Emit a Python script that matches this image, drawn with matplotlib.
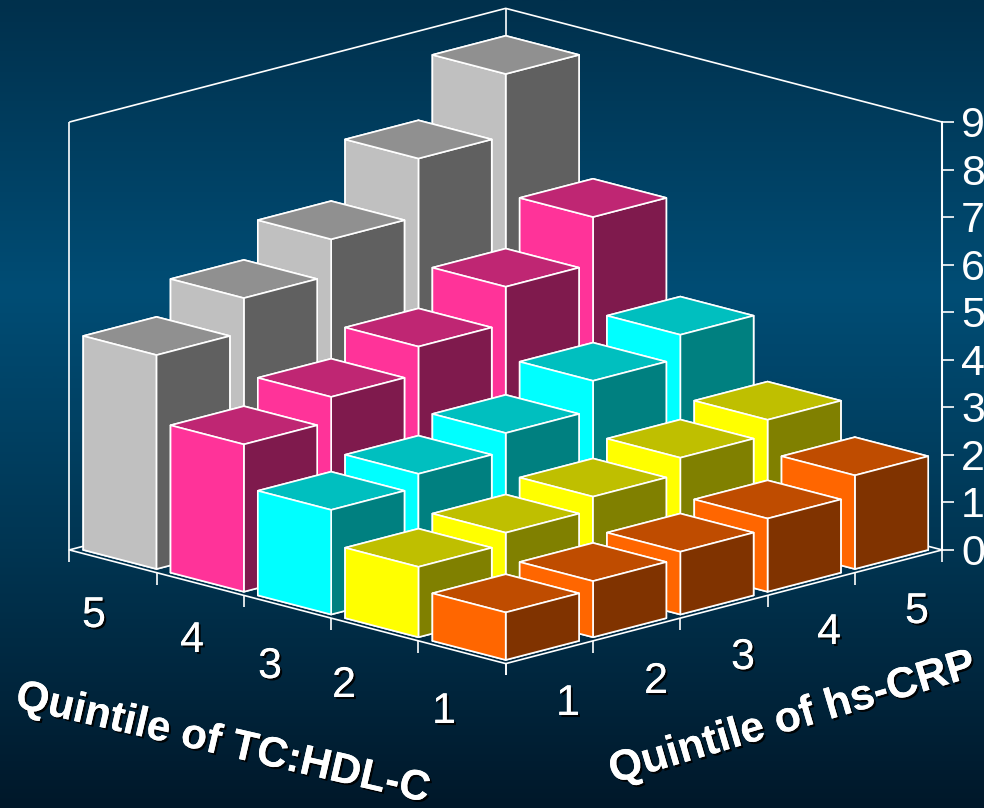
import matplotlib
matplotlib.use('Agg')
import matplotlib.pyplot as plt
import matplotlib.patheffects as pe
from matplotlib.colors import LinearSegmentedColormap
import numpy as np

plt.rcParams['font.family'] = ['Liberation Sans', 'DejaVu Sans']

W, H = 984, 808

crp_labels = ['1', '2', '3', '4', '5']
tc_labels = ['1', '2', '3', '4', '5']
z_ticks = [0, 1, 2, 3, 4, 5, 6, 7, 8, 9]

# event rate per hs-CRP quintile, one list per TC:HDL-C quintile
tc1_values = [1.00, 1.18, 1.32, 1.54, 1.97]
tc2_values = [1.48, 1.72, 2.00, 2.34, 2.66]
tc3_values = [2.20, 2.48, 2.86, 3.48, 3.97]
tc4_values = [3.10, 3.62, 4.20, 4.98, 5.97]
tc5_values = [4.50, 5.22, 5.98, 7.20, 8.50]
all_values = [tc1_values, tc2_values, tc3_values, tc4_values, tc5_values]

# side facing left, top, side facing right
orange = ['#FF6600', '#BF4C00', '#803300']
yellow = ['#FFFF00', '#BFBF00', '#808000']
cyan = ['#00FFFF', '#00BFBF', '#008080']
pink = ['#FF3399', '#BF2673', '#7F1A4D']
gray = ['#C0C0C0', '#909090', '#606060']
all_colors = [orange, yellow, cyan, pink, gray]

fig = plt.figure(figsize=(W / 100, H / 100), dpi=100)

# background gradient
bg = fig.add_axes([0, 0, 1, 1], zorder=0)
stops = [(0.0, '#00304C'), (0.36, '#004D75'), (0.68, '#003552'), (1.0, '#00182A')]
cmap = LinearSegmentedColormap.from_list('bg', stops)
bg.imshow(np.linspace(0, 1, 512).reshape(-1, 1), cmap=cmap, aspect='auto', vmin=0, vmax=1)
bg.set_axis_off()

# square 3d axes, bigger than the figure so nothing gets clipped
size = 1400
x0 = 505.7 - 0.5135 * size
y0 = (H - 336) - 0.5135 * size
ax = fig.add_axes([x0 / W, y0 / H, size / W, size / H], projection='3d', zorder=1)
ax.patch.set_alpha(0)
ax.set_proj_type('ortho')
ax.view_init(elev=15.1, azim=-135)
ax.set_box_aspect((1, 1, 0.718), zoom=0.6788)
ax.computed_zorder = False
ax.set_axis_off()

line = dict(color='white', lw=1.2, solid_capstyle='butt')

# floor and back walls
ax.plot([0, 5, 5, 0, 0], [0, 0, 5, 5, 0], [0, 0, 0, 0, 0], zorder=2, **line)
ax.plot([5, 5], [5, 5], [0, 9], zorder=2, **line)
ax.plot([0, 5, 5], [5, 5, 0], [9, 9, 9], zorder=2, **line)
ax.plot([0, 0], [5, 5], [0, 9], zorder=2, **line)
ax.plot([5, 5], [0, 0], [0, 9], zorder=2, color='white', lw=1.5)

# tick marks under the two front edges
for t in range(6):
    ax.plot([t, t], [0, 0], [-0.25, 0], zorder=2, **line)
    ax.plot([0, 0], [t, t], [-0.25, 0], zorder=2, **line)

# tick marks on the value axis
for v in z_ticks:
    ax.plot([5, 5.0687], [0, -0.0687], [v, v], zorder=2, **line)

# bars, back to front
bar_w = 0.84
gap = (1 - bar_w) / 2
order = sorted(((i, j) for i in range(5) for j in range(5)), key=lambda c: -(c[0] + c[1]))
for n, (i, j) in enumerate(order):
    left, top, right = all_colors[j]
    faces = [top, top, right, right, left, right]
    ax.bar3d(i + gap, j + gap, 0, bar_w, bar_w, all_values[j][i], color=faces,
             edgecolor='white', linewidth=1.2, shade=False, zorder=5 + n)

ax.set_xlim(0, 5)
ax.set_ylim(0, 5)
ax.set_zlim(0, 9)

shadow = [pe.withSimplePatchShadow(offset=(1.5, -1.5), shadow_rgbFace='black', alpha=0.9), pe.Normal()]


def label(x, y, s, **kw):
    fig.text(x / W, 1 - y / H, s, color='white', path_effects=shadow, zorder=5, **kw)


# value axis labels, 47.55 px per unit above the floor corner
for v in z_ticks:
    fig.text(961 / W, 1 - (550 - 47.55 * v + 15) / H, str(v), color='white',
             fontsize=31, ha='left', va='baseline', zorder=5)

tc_pos = [(444, 723), (344, 697), (270, 678), (192, 652), (94, 627)]
crp_pos = [(568, 715), (656, 693), (743, 669), (829, 644), (917, 623)]
for s, (x, y) in zip(tc_labels, tc_pos):
    label(x, y, s, fontsize=31, ha='center', va='baseline')
for s, (x, y) in zip(crp_labels, crp_pos):
    label(x, y, s, fontsize=31, ha='center', va='baseline')

label(223, 744, 'Quintile of TC:HDL-C', fontsize=30.5, fontweight='bold', rotation=-13,
      rotation_mode='anchor', ha='center', va='center')
label(792, 719, 'Quintile of hs-CRP', fontsize=31, fontweight='bold', rotation=16.5,
      rotation_mode='anchor', ha='center', va='center')

fig.savefig('out.png', dpi=100)
